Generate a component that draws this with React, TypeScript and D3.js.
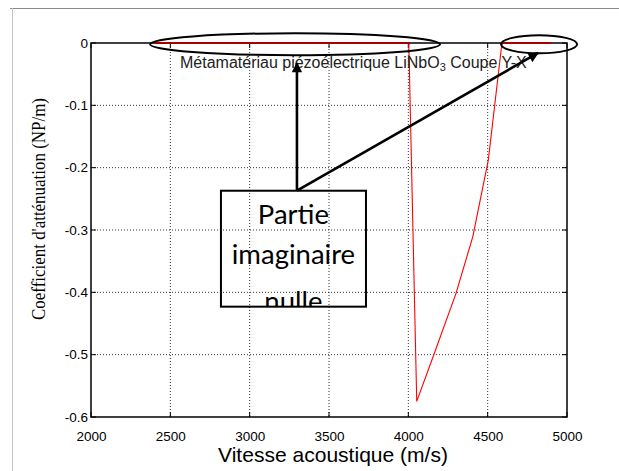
import { useEffect, useRef } from "react";
import * as d3 from "d3";

// Courbe rouge : vitesse acoustique (m/s) / coefficient d'atténuation (NP/m)
const velocity = [2400, 4003, 4053, 4168, 4300, 4406, 4504, 4590, 4900];
const attenuation = [0, 0, -0.575, -0.495, -0.402, -0.311, -0.188, 0, 0];

const xTicks = [2000, 2500, 3000, 3500, 4000, 4500, 5000];
const yTicks = [0, -0.1, -0.2, -0.3, -0.4, -0.5, -0.6];
const yTickLabels = ["0", "-0.1", "-0.2", "-0.3", "-0.4", "-0.5", "-0.6"];

const boxLines = ["Partie", "imaginaire", "nulle"];

export default function App() {
    const svgRef = useRef<SVGSVGElement | null>(null);

    useEffect(() => {
        const width = 619;
        const height = 471;
        const margin = { top: 43, right: 52, bottom: 54, left: 91 };

        const svg = d3.select(svgRef.current)
            .attr("width", width)
            .attr("height", height)
            .style("background", "#ffffff");

        svg.selectAll("*").remove();

        const x = d3.scaleLinear()
            .domain([2000, 5000])
            .range([margin.left, width - margin.right]);

        const y = d3.scaleLinear()
            .domain([-0.6, 0])
            .range([height - margin.bottom, margin.top]);

        const [x0, x1] = x.range();
        const [y1, y0] = y.range();
        const defs = svg.append("defs");

        // cadre gris de la figure
        svg.append("line").attr("x1", 10).attr("x2", width).attr("y1", 8.5).attr("y2", 8.5)
            .attr("stroke", "#8a8a8a").attr("stroke-width", 1);
        svg.append("line").attr("x1", 12.5).attr("x2", 12.5).attr("y1", 8).attr("y2", height)
            .attr("stroke", "#c4c4c4").attr("stroke-width", 1);

        // grille pointillée
        const grid = svg.append("g")
            .attr("stroke", "#000")
            .attr("stroke-width", 0.8)
            .attr("stroke-dasharray", "1,2");
        xTicks.slice(1, -1).forEach(t => {
            grid.append("line").attr("x1", x(t)).attr("x2", x(t)).attr("y1", y0).attr("y2", y1);
        });
        yTicks.slice(1, -1).forEach(t => {
            grid.append("line").attr("x1", x0).attr("x2", x1).attr("y1", y(t)).attr("y2", y(t));
        });

        // axes
        const xAxis = d3.axisBottom(x).tickValues(xTicks).tickSize(0).tickPadding(14)
            .tickFormat(d => String(d));
        const gx = svg.append("g")
            .attr("transform", `translate(0, ${y1})`)
            .call(xAxis);
        gx.select(".domain").remove();
        gx.selectAll("text")
            .attr("font-family", "Liberation Sans, Arial, sans-serif")
            .attr("font-size", 13.5)
            .attr("fill", "#000");

        const yAxis = d3.axisLeft(y).tickValues(yTicks).tickSize(0).tickPadding(3)
            .tickFormat((d, i) => yTickLabels[i]);
        const gy = svg.append("g")
            .attr("transform", `translate(${x0}, 0)`)
            .call(yAxis);
        gy.select(".domain").remove();
        gy.selectAll("text")
            .attr("font-family", "Liberation Sans, Arial, sans-serif")
            .attr("font-size", 13.5)
            .attr("fill", "#000");

        // petites graduations intérieures
        const ticks = svg.append("g").attr("stroke", "#000").attr("stroke-width", 1);
        xTicks.forEach(t => {
            ticks.append("line").attr("x1", x(t)).attr("x2", x(t)).attr("y1", y1).attr("y2", y1 - 5);
            ticks.append("line").attr("x1", x(t)).attr("x2", x(t)).attr("y1", y0).attr("y2", y0 + 5);
        });
        yTicks.forEach(t => {
            ticks.append("line").attr("x1", x0).attr("x2", x0 + 5).attr("y1", y(t)).attr("y2", y(t));
            ticks.append("line").attr("x1", x1).attr("x2", x1 - 5).attr("y1", y(t)).attr("y2", y(t));
        });

        // boîte des axes
        svg.append("rect")
            .attr("x", x0).attr("y", y0)
            .attr("width", x1 - x0).attr("height", y1 - y0)
            .attr("fill", "none").attr("stroke", "#000").attr("stroke-width", 1.5);

        // courbe
        const line = d3.line<number>()
            .x((d, i) => x(velocity[i]))
            .y(d => y(d));
        svg.append("path")
            .datum(attenuation)
            .attr("fill", "none")
            .attr("stroke", "#ff0000")
            .attr("stroke-width", 1.1)
            .attr("d", line);

        // partie de la courbe confondue avec le bord supérieur (rouge foncé)
        defs.append("clipPath").attr("id", "topclip")
            .append("rect").attr("x", x0).attr("y", y0 - 1.5)
            .attr("width", x1 - x0).attr("height", 3);
        svg.append("path")
            .datum(attenuation)
            .attr("clip-path", "url(#topclip)")
            .attr("fill", "none")
            .attr("stroke", "#a80000")
            .attr("stroke-width", 2.2)
            .attr("d", line);

        // titre
        const title = svg.append("text")
            .attr("x", 180).attr("y", 68)
            .attr("font-family", "Liberation Sans, Arial, sans-serif")
            .attr("font-size", 16)
            .attr("fill", "#222");
        title.append("tspan").text("Métamatériau piézoélectrique LiNbO");
        title.append("tspan").attr("font-size", 11).attr("dy", 3).text("3");
        title.append("tspan").attr("dy", -3).text(" Coupe Y-X");

        // titres des axes
        svg.append("text")
            .attr("x", 333).attr("y", 462)
            .attr("text-anchor", "middle")
            .attr("font-family", "Liberation Sans, Arial, sans-serif")
            .attr("font-size", 21)
            .attr("textLength", 230)
            .attr("lengthAdjust", "spacingAndGlyphs")
            .attr("fill", "#000")
            .text("Vitesse acoustique (m/s)");

        svg.append("text")
            .attr("transform", `translate(45, 209) rotate(-90)`)
            .attr("text-anchor", "middle")
            .attr("font-family", "Liberation Serif, Times New Roman, serif")
            .attr("font-size", 18.5)
            .attr("textLength", 222)
            .attr("lengthAdjust", "spacingAndGlyphs")
            .attr("fill", "#000")
            .text("Coefficient d'atténuation (NP/m)");

        // annotations : ellipses
        const ann = svg.append("g").attr("fill", "none").attr("stroke", "#000").attr("stroke-width", 2);
        ann.append("ellipse")
            .attr("cx", x(3286)).attr("cy", y(-0.002))
            .attr("rx", 145).attr("ry", 11);
        ann.append("ellipse")
            .attr("cx", x(4824)).attr("cy", y(-0.002))
            .attr("rx", 38).attr("ry", 9);

        // flèches
        defs.append("marker")
            .attr("id", "head")
            .attr("viewBox", "0 0 10 10")
            .attr("refX", 9).attr("refY", 5)
            .attr("markerWidth", 4.5).attr("markerHeight", 4)
            .attr("markerUnits", "strokeWidth")
            .attr("orient", "auto")
            .append("path").attr("d", "M0,0L10,5L0,10Z").attr("fill", "#000");

        const origin = { v: 3298, a: -0.237 };
        const tips = [{ v: 3298, a: -0.032 }, { v: 4817, a: -0.016 }];
        tips.forEach(t => {
            svg.append("line")
                .attr("x1", x(origin.v)).attr("y1", y(origin.a))
                .attr("x2", x(t.v)).attr("y2", y(t.a))
                .attr("stroke", "#000").attr("stroke-width", 2.6)
                .attr("marker-end", "url(#head)");
        });

        // boîte de texte
        const bx0 = x(2819), bx1 = x(3733), by0 = y(-0.237), by1 = y(-0.423);
        defs.append("clipPath").attr("id", "boxclip")
            .append("rect").attr("x", bx0).attr("y", by0)
            .attr("width", bx1 - bx0).attr("height", by1 - by0);
        svg.append("rect")
            .attr("x", bx0).attr("y", by0)
            .attr("width", bx1 - bx0).attr("height", by1 - by0)
            .attr("fill", "none").attr("stroke", "#000").attr("stroke-width", 2);
        const baselines = [224, 264, 311];
        const bt = svg.append("g").attr("clip-path", "url(#boxclip)");
        boxLines.forEach((s, i) => {
            bt.append("text")
                .attr("x", (bx0 + bx1) / 2)
                .attr("y", baselines[i])
                .attr("text-anchor", "middle")
                .attr("font-family", "Lato, Open Sans, sans-serif")
                .attr("font-size", 27.5)
                .attr("fill", "#000")
                .text(s);
        });
    }, []);

    return (
        <svg ref={svgRef} style={{ position: "absolute", left: 0, top: 0 }}></svg>
    );
}
